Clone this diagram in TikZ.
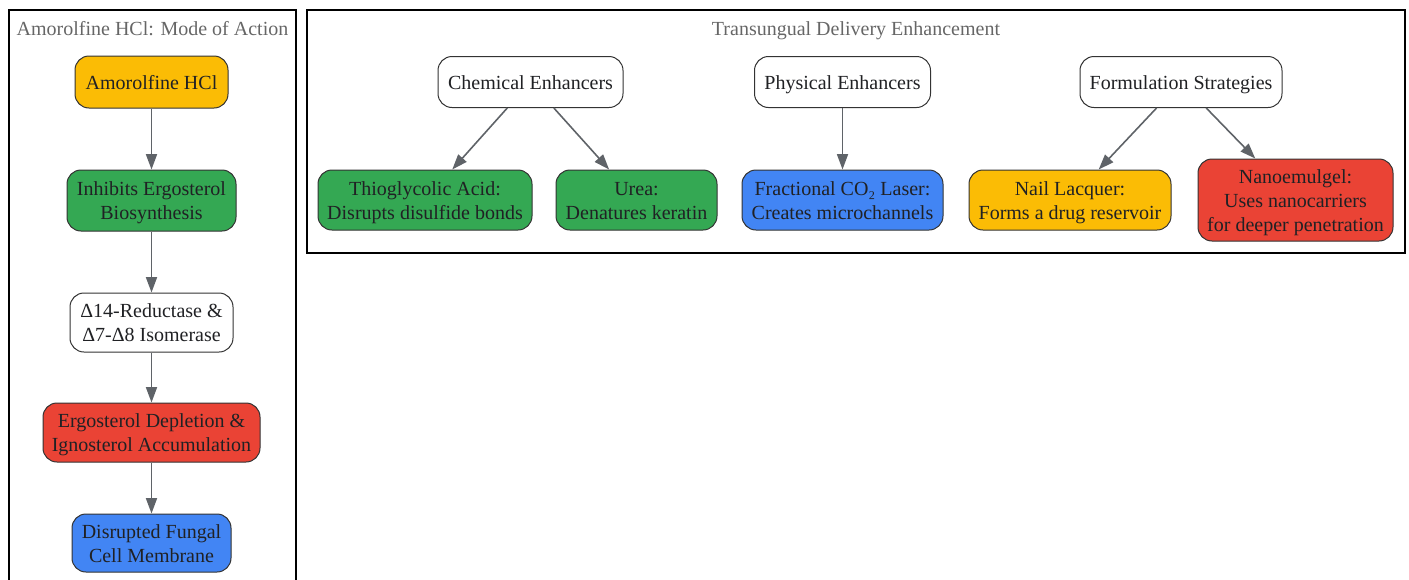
\documentclass[tikz,border=0pt]{standalone}
\usepackage{fontspec}
\setmainfont{Liberation Serif}
\usetikzlibrary{arrows.meta}
\definecolor{gyellow}{HTML}{FBBC05}
\definecolor{ggreen}{HTML}{34A853}
\definecolor{gred}{HTML}{EA4335}
\definecolor{gblue}{HTML}{4285F4}
\definecolor{boxline}{HTML}{333333}
\definecolor{txt}{HTML}{202124}
\definecolor{arrowgray}{HTML}{5F6368}
\definecolor{titlegray}{HTML}{666666}
% text block whose first baseline sits #1 above the node centre
\newcommand{\nodetxt}[2]{\raisebox{#1}[0pt][0pt]{\begin{tabular}[t]{@{}c@{}}#2\end{tabular}}}
\begin{document}
\begin{tikzpicture}[x=0.75pt,y=-0.75pt,
  struts/.style={execute at begin node={\rule{0pt}{14pt}},
    execute at end node={\rule[-3.5pt]{0pt}{3.5pt}}},
  box/.style={draw=boxline, rounded corners=10.5pt,
    font=\fontsize{15}{18}\selectfont, text=txt, inner sep=0pt, line width=0.75pt},
  sz/.style 2 args={minimum width=#1*0.75pt, minimum height=#2*0.75pt},
  arr/.style={-{Triangle[length=11.5pt,width=8.25pt]}, draw=arrowgray, line width=1.2pt},
  ttl/.style={font=\fontsize{15}{18}\selectfont, text=titlegray, inner sep=0pt, struts},
  cluster/.style={draw=black, line width=0.8pt}]
\useasboundingbox (0,0) rectangle (1409,579);
\clip (0,0) rectangle (1409,579);
% clusters
\draw[cluster] (9,10) rectangle (296,600);
\draw[cluster] (307,10) rectangle (1405,253);
\node[ttl] (t1) at (152.5,28.5) {Amorolfine HCl: Mode of Action};
\node[ttl] (t2) at (856,28.5) {Transungual Delivery Enhancement};
% left chain
\node[box, fill=gyellow, sz={153}{52}] (a1) at (151.5,82) {\nodetxt{-5.25pt}{Amorolfine HCl}};
\node[box, fill=ggreen, sz={169}{61}] (a2) at (151.5,200.5) {\nodetxt{3.6pt}{Inhibits Ergosterol\\Biosynthesis}};
\node[box, fill=white, sz={163}{59}] (a3) at (151.5,322.5) {\nodetxt{3.6pt}{Δ14-Reductase \&\\Δ7-Δ8 Isomerase}};
\node[box, fill=gred, sz={217}{59}] (a4) at (151.5,432.5) {\nodetxt{3.6pt}{Ergosterol Depletion \&\\Ignosterol Accumulation}};
\node[box, fill=gblue, sz={159}{58}] (a5) at (151.5,543) {\nodetxt{3.6pt}{Disrupted Fungal\\Cell Membrane}};
\draw[arr] (a1) -- (a2);
\draw[arr] (a2) -- (a3);
\draw[arr] (a3) -- (a4);
\draw[arr] (a4) -- (a5);
% right
\node[box, fill=white, sz={185}{51}] (ce) at (530.5,82) {\nodetxt{-5.25pt}{Chemical Enhancers}};
\node[box, fill=white, sz={176}{51}] (pe) at (842.5,82) {\nodetxt{-5.25pt}{Physical Enhancers}};
\node[box, fill=white, sz={202}{51}] (fs) at (1181,82) {\nodetxt{-5.25pt}{Formulation Strategies}};
\node[box, fill=ggreen, sz={214}{60}] (ta) at (425,200) {\nodetxt{3.6pt}{Thioglycolic Acid:\\Disrupts disulfide bonds}};
\node[box, fill=ggreen, sz={161}{60}] (ur) at (636.5,200) {\nodetxt{3.6pt}{Urea:\\Denatures keratin}};
\node[box, fill=gblue, sz={201}{60}] (fl) at (842.5,200) {\nodetxt{3.6pt}{Fractional CO₂ Laser:\\Creates microchannels}};
\node[box, fill=gyellow, sz={202}{60}] (nl) at (1070,200) {\nodetxt{3.6pt}{Nail Lacquer:\\Forms a drug reservoir}};
\node[box, fill=gred, sz={195}{82}] (ng) at (1295.5,200) {\nodetxt{12.3pt}{Nanoemulgel:\\Uses nanocarriers\\for deeper penetration}};
\draw[arr] (ce) -- (ta);
\draw[arr] (ce) -- (ur);
\draw[arr] (pe) -- (fl);
\draw[arr] (fs) -- (nl);
\draw[arr] (fs) -- (ng);
\end{tikzpicture}
\end{document}
